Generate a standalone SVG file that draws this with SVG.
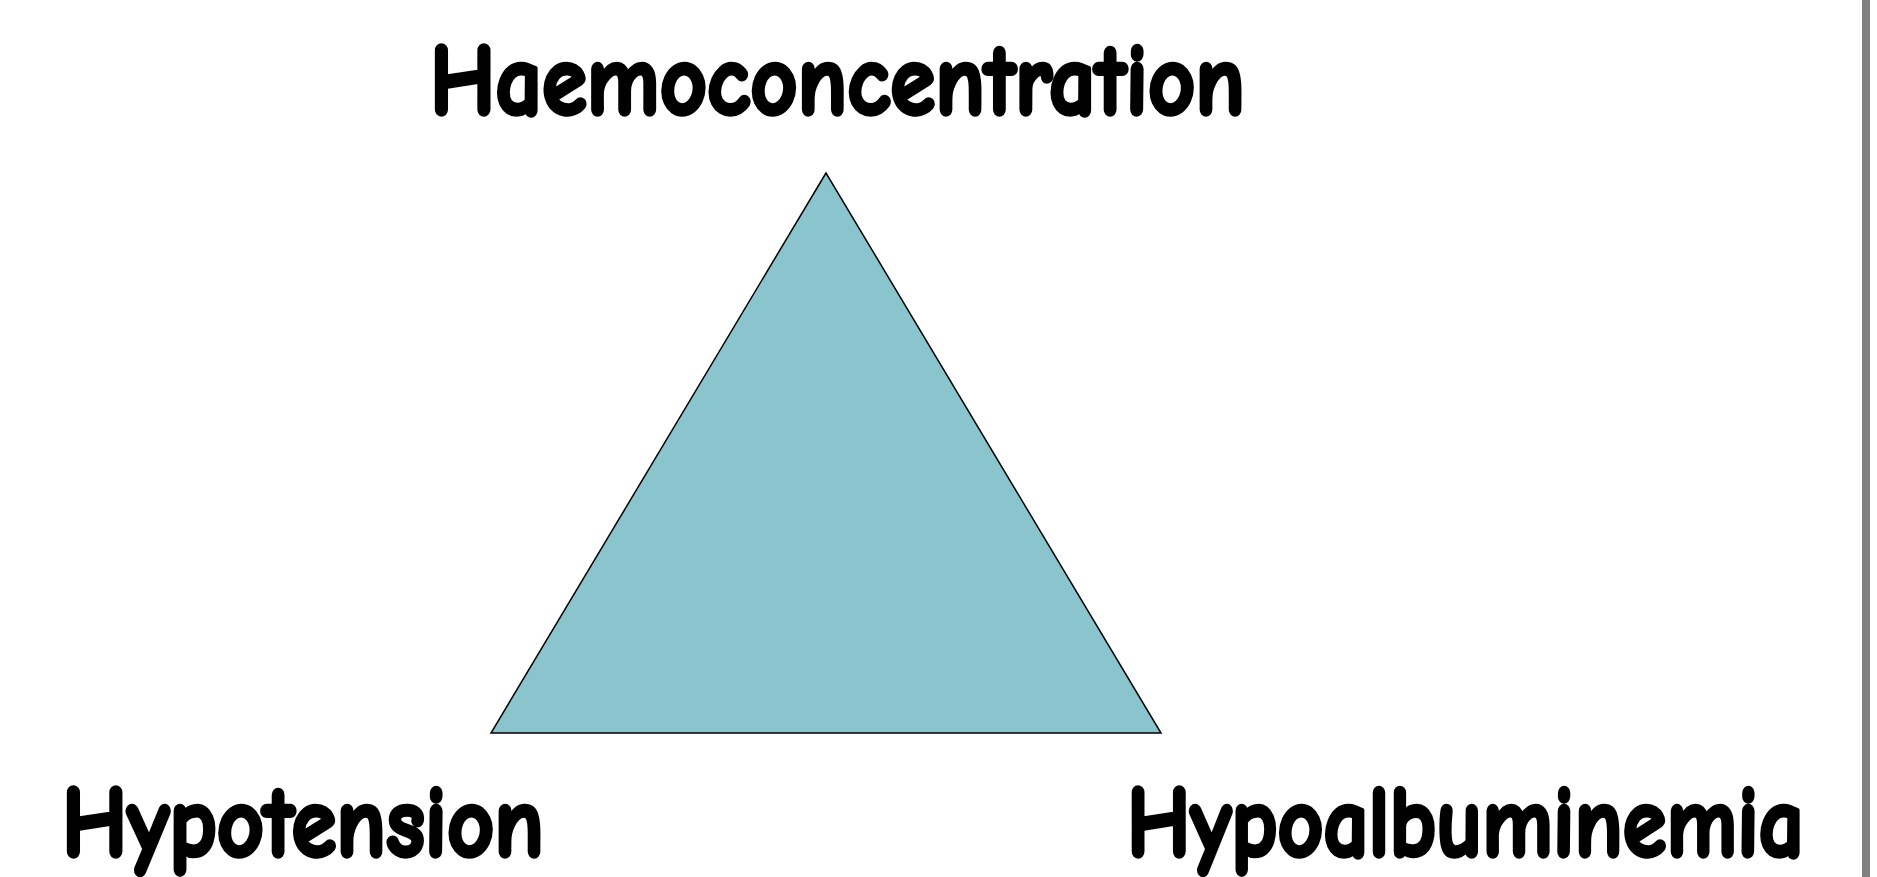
<svg xmlns="http://www.w3.org/2000/svg" width="1877" height="877" viewBox="0 0 1877 877">
<style>
.lbl{font-family:"Comic Sans MS","Comic Neue","Open Sans","Liberation Sans",sans-serif;font-weight:bold;font-size:102px;fill:#000;stroke:#000;stroke-width:4.5px;stroke-linejoin:round}
</style>
<rect x="0" y="0" width="1877" height="877" fill="#ffffff"/>
<rect x="1862" y="0" width="8" height="877" fill="#808080"/>
<g id="triangle">
<polygon points="826,173 491,733 1161,733" fill="#8AC5CD" stroke="#000" stroke-width="1.5" stroke-linejoin="miter"/>
</g>
<g id="haemoconcentration">
<text class="lbl" x="430" y="114" textLength="815" lengthAdjust="spacingAndGlyphs">Haemoconcentration</text>
</g>
<g id="hypotension">
<text class="lbl" x="62" y="856" textLength="482" lengthAdjust="spacingAndGlyphs">Hypotension</text>
</g>
<g id="hypoalbuminemia">
<text class="lbl" x="1127" y="856" textLength="677" lengthAdjust="spacingAndGlyphs">Hypoalbuminemia</text>
</g>
<g id="connectors"></g>
</svg>
